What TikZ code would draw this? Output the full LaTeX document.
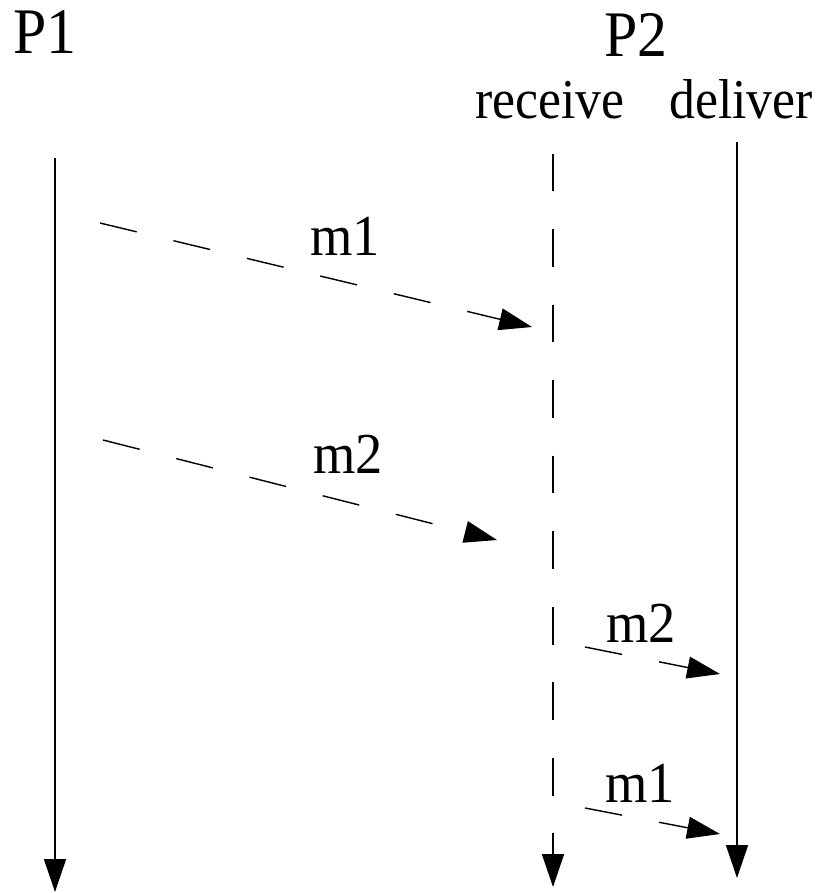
\documentclass[tikz,border=0pt]{standalone}
\usepackage{fontspec}
\setmainfont{Liberation Serif}
\newfontfamily\timesfont{Liberation Serif}
\usetikzlibrary{arrows.meta}
\tikzset{
	proc/.style={anchor=base, inner sep=0pt, xscale=0.92, font=\timesfont\fontsize{37}{39}\selectfont},
	side/.style={anchor=base, inner sep=0pt, xscale=0.92, font=\timesfont\fontsize{32}{34}\selectfont},
	msg/.style={anchor=base, inner sep=0pt, xscale=0.94, font=\timesfont\fontsize{33}{35}\selectfont},
	tip/.style={-{Triangle[length=18.7pt, width=12.5pt]}},
	gap/.style={dash pattern=on 21.5pt off 21.5pt}
}
\begin{document}
\begin{tikzpicture}[x=0.02cm, y=-0.02cm, line width=0.8pt]
	\useasboundingbox (0,0) rectangle (825,893);
	\node[proc] (p1) at (45,53) {P1};
	\node[proc] (p2) at (636,56) {P2};
	\node[side] (recv) at (550,118) {receive};
	\node[side] (deliv) at (741,118) {deliver};
	\coordinate (p1a) at (55,158);
	\coordinate (p1b) at (55,892);
	\coordinate (ra) at (553,150);
	\coordinate (rb) at (553,887);
	\coordinate (da) at (737,142);
	\coordinate (db) at (737,878);
	\draw[tip] (p1a) -- (p1b);
	\draw[tip, gap, dash phase=-2pt] (ra) -- (rb);
	\draw[tip] (da) -- (db);
	% messages from P1
	\coordinate (s1) at (100,223);
	\coordinate (e1) at (532,327);
	\coordinate (s2) at (103,440);
	\coordinate (e2) at (497,540);
	\draw[tip, gap] (s1) -- (e1);
	\draw[tip, gap] (s2) -- (e2);
	\node[msg] (l1) at (345,255) {m1};
	\node[msg] (l2) at (348,473) {m2};
	% delivery at P2
	\coordinate (s3) at (585,647);
	\coordinate (e3) at (720,674);
	\coordinate (s4) at (585,808);
	\coordinate (e4) at (720,834);
	\draw[tip, gap] (s3) -- (e3);
	\draw[tip, gap] (s4) -- (e4);
	\node[msg] (l3) at (641,642) {m2};
	\node[msg] (l4) at (640,802) {m1};
\end{tikzpicture}
\end{document}
